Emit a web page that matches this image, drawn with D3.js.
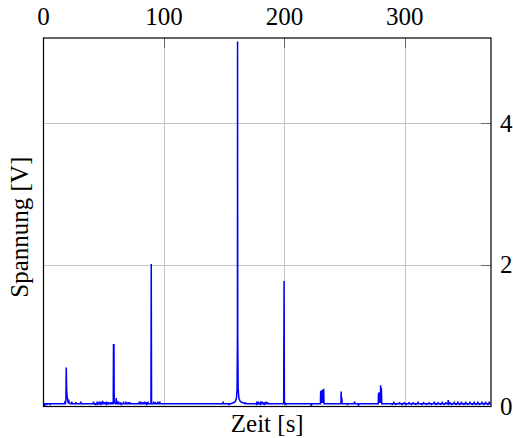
<!DOCTYPE html>
<html>
<head>
<meta charset="utf-8">
<script src="https://cdn.jsdelivr.net/npm/d3@7"></script>
<style>
  html, body { margin: 0; padding: 0; background: #fff; }
  svg { display: block; }
  svg text { font-family: "Liberation Serif", "Times New Roman", serif; fill: #000; }
</style>
</head>
<body>
<svg id="chart" width="513" height="438"></svg>
<script>
// Axis ticks
const xTicks = [0, 100, 200, 300];
const yTicks = [0, 2, 4];
const xLabel = "Zeit [s]";
const yLabel = "Spannung [V]";

// Measured voltage trace: [time in s, voltage in V]
const trace = [
  [0,0.04],[0.8,0.04],[1.0,0.01],[1.3,0.04],[2.6,0.04],[2.8,0.02],[3.1,0.04],[5.2,0.04],[5.4,0.02],[5.7,0.04],
  [17.6,0.04],[17.8,0.06],[18.3,0.05],[18.6,0.1],[18.9,0.55],[19.2,0.25],[19.6,0.14],[20.0,0.1],[20.5,0.06],[21,0.08],[21.5,0.05],[22.2,0.04],
  [23.3,0.04],[23.5,0.07],[23.7,0.04],[26.6,0.04],[26.8,0.06],[27,0.04],[30.8,0.04],[31,0.07],[31.2,0.04],
  [41.3,0.04],[41.5,0.07],[41.7,0.04],[42.8,0.04],[43,0.02],[43.2,0.04],[44.3,0.04],[44.5,0.07],[44.7,0.02],[44.9,0.04],
  [46,0.04],[46.2,0.07],[46.4,0.04],[47.3,0.04],[47.5,0.02],[47.7,0.07],[47.9,0.04],[49,0.04],[49.2,0.08],[49.4,0.03],[49.6,0.04],
  [50.5,0.04],[50.7,0.06],[50.9,0.04],[52,0.04],[52.2,0.07],[52.4,0.02],[52.6,0.04],[53.5,0.04],[53.7,0.06],[53.9,0.04],
  [55,0.04],[55.2,0.03],[55.4,0.06],[55.6,0.04],[56.6,0.04],[56.8,0.06],[57,0.04],
  [57.9,0.04],[58.1,0.87],[58.5,0.87],[58.7,0.08],[59,0.05],[59.6,0.04],
  [60.2,0.04],[60.4,0.12],[60.6,0.05],[61,0.08],[61.3,0.04],[62.3,0.04],[62.5,0.07],[62.7,0.04],[64,0.04],[64.2,0.06],[64.4,0.02],[64.6,0.04],
  [66.3,0.04],[66.5,0.07],[66.7,0.04],[68.3,0.04],[68.5,0.07],[68.7,0.03],[68.9,0.04],[70,0.04],[70.2,0.06],[70.4,0.04],[71.4,0.04],[71.6,0.06],[71.8,0.04],
  [79.3,0.04],[79.5,0.07],[79.7,0.04],[80.8,0.04],[81,0.07],[81.2,0.03],[81.4,0.04],[82.4,0.04],[82.6,0.06],[82.8,0.04],
  [83.8,0.04],[84,0.07],[84.2,0.04],[85.3,0.04],[85.5,0.06],[85.7,0.02],[85.9,0.04],[86.5,0.04],[86.7,0.07],[86.9,0.04],
  [89.2,0.04],[89.45,2.01],[89.7,0.05],[90,0.04],
  [91.3,0.04],[91.5,0.07],[91.7,0.03],[91.9,0.04],[92.8,0.04],[93,0.06],[93.2,0.04],[94.8,0.04],[95,0.07],[95.2,0.04],[96.4,0.04],[96.6,0.07],[96.8,0.04],
  [148.9,0.04],[149.1,0.07],[149.3,0.04],[153.7,0.04],[153.9,0.02],[154.1,0.04],
  [155.5,0.04],[157,0.05],[158.5,0.06],[159.5,0.08],[160.2,0.12],[160.7,0.25],[161.0,1.0],[161.1,5.15],[161.25,1.0],[161.6,0.25],
  [162.2,0.12],[163,0.08],[164.5,0.06],[166,0.05],[167,0.05],[167.3,0.03],[167.6,0.05],[169,0.04],
  [176.8,0.04],[177,0.07],[177.2,0.02],[177.4,0.04],[178.3,0.04],[178.5,0.07],[178.7,0.04],[179.8,0.04],[180,0.02],[180.2,0.07],[180.4,0.04],
  [181.3,0.04],[181.5,0.07],[181.7,0.04],[182.8,0.04],[183,0.06],[183.2,0.02],[183.4,0.04],[184.3,0.04],[184.5,0.07],[184.7,0.04],[185.8,0.04],[186,0.06],[186.2,0.04],
  [199.4,0.04],[199.7,1.77],[200,0.06],[200.2,0.03],[200.5,0.06],[200.8,0.04],[201,0.04],[201.2,0.02],[201.4,0.04],
  [222.2,0.04],[222.4,0.0],[222.6,0.04],
  [229.9,0.04],[230.1,0.22],[230.3,0.05],[230.5,0.22],[230.7,0.05],[230.9,0.23],[231.1,0.05],[231.4,0.22],[231.7,0.05],[232,0.24],[232.3,0.05],[232.6,0.25],[232.9,0.04],
  [246.9,0.04],[247.1,0.21],[247.3,0.06],[247.6,0.13],[247.9,0.04],
  [252.2,0.04],[252.4,0.02],[252.6,0.04],[257.9,0.04],[258.1,0.06],[258.4,0.06],[258.6,0.04],[261.3,0.04],[261.5,0.01],[261.7,0.04],
  [277.9,0.04],[278.1,0.19],[278.4,0.05],[278.7,0.2],[279,0.05],[279.3,0.2],[279.6,0.06],[279.9,0.3],[280.2,0.05],[280.5,0.26],[280.8,0.04],
  [289.3,0.04],[289.5,0.02],[289.7,0.04],[290.6,0.04],[290.8,0.07],[291,0.04],[292.3,0.04],[292.5,0.02],[292.7,0.04],
  [295.3,0.04],[295.5,0.06],[295.7,0.04],[297.3,0.04],[297.5,0.02],[297.7,0.04],[299.3,0.04],[299.5,0.06],[299.7,0.04],
  [300.8,0.04],[301,0.02],[301.2,0.04],[303.3,0.04],[303.5,0.06],[303.7,0.04],[305.3,0.04],[305.5,0.02],[305.7,0.04],
  [306.8,0.04],[307,0.06],[307.2,0.04],[308.8,0.04],[309,0.02],[309.2,0.04],[310.8,0.04],[311,0.07],[311.2,0.04],
  [313.8,0.04],[314,0.02],[314.2,0.04],[315.3,0.04],[315.5,0.06],[315.7,0.04],[317.8,0.04],[318,0.02],[318.2,0.04],
  [319.8,0.04],[320,0.06],[320.2,0.04],[321.8,0.04],[322,0.02],[322.2,0.04],[324.3,0.04],[324.5,0.07],[324.7,0.04],
  [325.8,0.04],[326,0.02],[326.2,0.04],[327.3,0.04],[327.5,0.06],[327.7,0.04],[329.3,0.04],[329.5,0.02],[329.7,0.04],
  [330.8,0.04],[331,0.07],[331.2,0.04],[332.3,0.04],[332.5,0.02],[332.7,0.04],[333.8,0.04],[334,0.06],[334.2,0.04],
  [335.8,0.04],[336,0.09],[336.2,0.02],[336.4,0.04],[337.3,0.04],[337.5,0.06],[337.7,0.04],[338.8,0.04],[339,0.02],[339.2,0.04],
  [340.8,0.04],[341,0.07],[341.2,0.04],[342.3,0.04],[342.5,0.02],[342.7,0.04],[343.8,0.04],[344,0.07],[344.2,0.04],
  [345.3,0.04],[345.5,0.02],[345.7,0.04],[346.8,0.04],[347,0.07],[347.2,0.04],[348.8,0.04],[349,0.02],[349.2,0.04],
  [350.3,0.04],[350.5,0.07],[350.7,0.04],[351.8,0.04],[352,0.02],[352.2,0.04],[353.8,0.04],[354,0.07],[354.2,0.04],
  [355.8,0.04],[356,0.02],[356.2,0.04],[357.3,0.04],[357.5,0.07],[357.7,0.04],[358.8,0.04],[359,0.02],[359.2,0.04],
  [360.3,0.04],[360.5,0.07],[360.7,0.04],[361.8,0.04],[362,0.02],[362.2,0.04],[363.8,0.04],[364,0.07],[364.2,0.04],
  [365.3,0.04],[365.5,0.02],[365.7,0.04],[366.8,0.04],[367,0.07],[367.2,0.04],[368.8,0.04],[369,0.02],[369.2,0.04],
  [369.8,0.04],[370,0.07],[370.2,0.04],[371.5,0.04]
];

const svg = d3.select("#chart");
const plot = { left: 43.5, right: 491, top: 38, bottom: 406.5 };

const x = d3.scaleLinear().domain([0, 371.5]).range([plot.left, plot.right]);
const y = d3.scaleLinear().domain([0, 5.2]).range([plot.bottom, plot.top]);

// Grid lines
const grid = svg.append("g").attr("stroke", "#c4c4c4").attr("stroke-width", 1);
grid.selectAll("line.gx").data(xTicks.filter(d => d > 0)).join("line")
  .attr("x1", d => Math.round(x(d)) + 0.5).attr("x2", d => Math.round(x(d)) + 0.5)
  .attr("y1", plot.top).attr("y2", plot.bottom);
grid.selectAll("line.gy").data(yTicks.filter(d => d > 0)).join("line")
  .attr("x1", plot.left).attr("x2", plot.right)
  .attr("y1", d => Math.round(y(d)) + 0.5).attr("y2", d => Math.round(y(d)) + 0.5);

// Inward tick marks on the top and right axes
const ticks = svg.append("g").attr("stroke", "#6a6a6a").attr("stroke-width", 1);
ticks.selectAll("line.tx").data(xTicks.filter(d => d > 0)).join("line")
  .attr("x1", d => Math.round(x(d)) + 0.5).attr("x2", d => Math.round(x(d)) + 0.5)
  .attr("y1", plot.top).attr("y2", plot.top + 10);
ticks.selectAll("line.ty").data(yTicks.filter(d => d > 0)).join("line")
  .attr("x1", plot.right - 10).attr("x2", plot.right)
  .attr("y1", d => Math.round(y(d)) + 0.5).attr("y2", d => Math.round(y(d)) + 0.5);

// Voltage trace
const line = d3.line().x(d => x(d[0])).y(d => y(d[1]));
svg.append("path")
  .datum(trace)
  .attr("fill", "none")
  .attr("stroke", "#0000ff")
  .attr("stroke-width", 1.5)
  .attr("stroke-linejoin", "miter")
  .attr("d", line);

// Frame
svg.append("rect")
  .attr("x", plot.left).attr("y", plot.top)
  .attr("width", plot.right - plot.left).attr("height", plot.bottom - plot.top)
  .attr("fill", "none").attr("stroke", "#000").attr("stroke-width", 1.2);

// Tick labels: x on top, y on the right
svg.append("g").selectAll("text").data(xTicks).join("text")
  .attr("x", d => x(d)).attr("y", 25)
  .attr("text-anchor", "middle")
  .style("font-size", "25px")
  .text(d => d);

svg.append("g").selectAll("text").data(yTicks).join("text")
  .attr("x", plot.right + 9).attr("y", d => y(d))
  .attr("dy", "0.34em")
  .style("font-size", "25px")
  .text(d => d);

// Axis titles
svg.append("text")
  .attr("x", (plot.left + plot.right) / 2).attr("y", 432)
  .attr("text-anchor", "middle")
  .style("font-size", "25px")
  .text(xLabel);

svg.append("text")
  .attr("transform", `translate(28, ${(plot.top + plot.bottom) / 2 + 5}) rotate(-90)`)
  .attr("text-anchor", "middle")
  .style("font-size", "25px")
  .text(yLabel);
</script>
</body>
</html>
